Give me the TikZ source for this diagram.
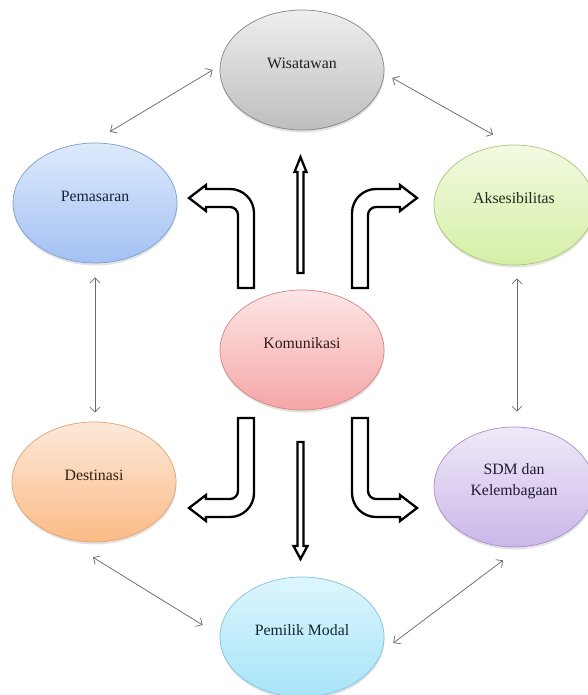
\documentclass[tikz,border=0pt]{standalone}
\usepackage{fontspec}
\setmainfont{Liberation Serif}
\usetikzlibrary{shapes.geometric,arrows.meta,calc,shadows}

% bubble colours: top / bottom of the gradient, outline, text
\definecolor{wistop}{HTML}{EEEEEE}\definecolor{wisbot}{HTML}{BEBEBE}\definecolor{wisedge}{HTML}{858585}\definecolor{wistxt}{HTML}{1E1E1E}
\definecolor{pemtop}{HTML}{DDEAFB}\definecolor{pembot}{HTML}{A3C1F3}\definecolor{pemedge}{HTML}{7D9DD2}\definecolor{pemtxt}{HTML}{16223A}
\definecolor{akstop}{HTML}{F2FAE1}\definecolor{aksbot}{HTML}{D5EFA6}\definecolor{aksedge}{HTML}{A9C873}\definecolor{akstxt}{HTML}{202818}
\definecolor{komtop}{HTML}{FDE6E6}\definecolor{kombot}{HTML}{F5A6A6}\definecolor{komedge}{HTML}{D18686}\definecolor{komtxt}{HTML}{321919}
\definecolor{destop}{HTML}{FDE9DA}\definecolor{desbot}{HTML}{FBBB86}\definecolor{desedge}{HTML}{E0A272}\definecolor{destxt}{HTML}{302014}
\definecolor{sdmtop}{HTML}{F0E9F8}\definecolor{sdmbot}{HTML}{CAB7E9}\definecolor{sdmedge}{HTML}{A891CC}\definecolor{sdmtxt}{HTML}{201830}
\definecolor{pmtop}{HTML}{DDF6FD}\definecolor{pmbot}{HTML}{A7E4F8}\definecolor{pmedge}{HTML}{80C3DB}\definecolor{pmtxt}{HTML}{102830}
\definecolor{linkgray}{HTML}{6A6A6A}

\begin{document}
\begin{tikzpicture}[x=1pt,y=-1pt,
  bubble/.style={ellipse, draw=#1edge, line width=0.7pt,
    top color=#1top, bottom color=#1bot, text=#1txt,
    minimum width=164pt, minimum height=120pt, inner sep=0pt,
    align=center, font=\fontsize{15.8}{21}\selectfont,
    drop shadow={shadow xshift=0.5pt, shadow yshift=-2.5pt, opacity=0.22}},
  oneline/.style={text height=11pt, text depth=13.8pt},
  link/.style={draw=linkgray, line width=0.75pt,
    {Straight Barb[length=5pt,width=10pt]}-{Straight Barb[length=5pt,width=10pt]}},
  block/.style={draw=black, line width=2.3pt, fill=white, line join=miter},
  bentarrow/.pic={
    \path[block] (-49,-65) -- (-49,-140)
      .. controls (-49,-153.25) and (-59.75,-164) .. (-73,-164)
      -- (-97,-164) -- (-97,-168) -- (-114,-155) -- (-97,-142) -- (-97,-146)
      -- (-73,-146) .. controls (-68.6,-146) and (-65,-142.4) .. (-65,-138)
      -- (-65,-65) -- cycle;
  }]
\useasboundingbox (0,0) rectangle (587,695);

% the seven bubbles
\node[bubble=wis, oneline] (wis) at (302,70)  {Wisatawan};
\node[bubble=pem, oneline] (pem) at (95,203)  {Pemasaran};
\node[bubble=aks, oneline, minimum width=160pt] (aks) at (514,205) {Aksesibilitas};
\node[bubble=kom, oneline] (kom) at (302,350) {Komunikasi};
\node[bubble=des, oneline] (des) at (94,482)  {Destinasi};
\node[bubble=sdm, minimum width=160pt] (sdm) at (514,487)
  {\raisebox{0pt}[25.3pt][8pt]{\begin{tabular}[b]{@{}c@{}}SDM dan\\Kelembagaan\end{tabular}}};
\node[bubble=pm, oneline] (pm) at (302,637) {Pemilik Modal};

% thin two-way links around the ring
\draw[link] ($(wis.west)+(-7,0)$)   -- ($(pem.north)+(15,-11)$);
\draw[link] ($(wis.east)+(8,8)$)    -- ($(aks.north)+(-21,-10)$);
\draw[link] ($(pem.south)+(0,14)$)  -- ($(des.north)+(1,-9)$);
\draw[link] ($(aks.south)+(3,13)$)  -- ($(sdm.north)+(3,-15)$);
\draw[link] ($(des.south)+(-1,15)$) -- ($(pm.west)+(-17,-12)$);
\draw[link] ($(sdm.south)+(-11,13)$) -- ($(pm.east)+(9,6)$);

% hollow block arrows leaving Komunikasi
\coordinate (hub) at ($(kom.center)+(1,3)$);
\pic at (hub) {bentarrow};
\pic[xscale=-1] at (hub) {bentarrow};
\pic[yscale=-1] at (hub) {bentarrow};
\pic[xscale=-1,yscale=-1] at (hub) {bentarrow};

\path[block] ($(kom.center)+(-4.5,-77)$) -- ++(0,-101) -- ++(-3,0) -- ++(6,-15)
  -- ++(6,15) -- ++(-3,0) -- ++(0,101) -- cycle;
\path[block] ($(kom.center)+(-4.5,92)$) -- ++(0,104) -- ++(-4,0) -- ++(7,13)
  -- ++(7,-13) -- ++(-4,0) -- ++(0,-104) -- cycle;
\end{tikzpicture}
\end{document}
